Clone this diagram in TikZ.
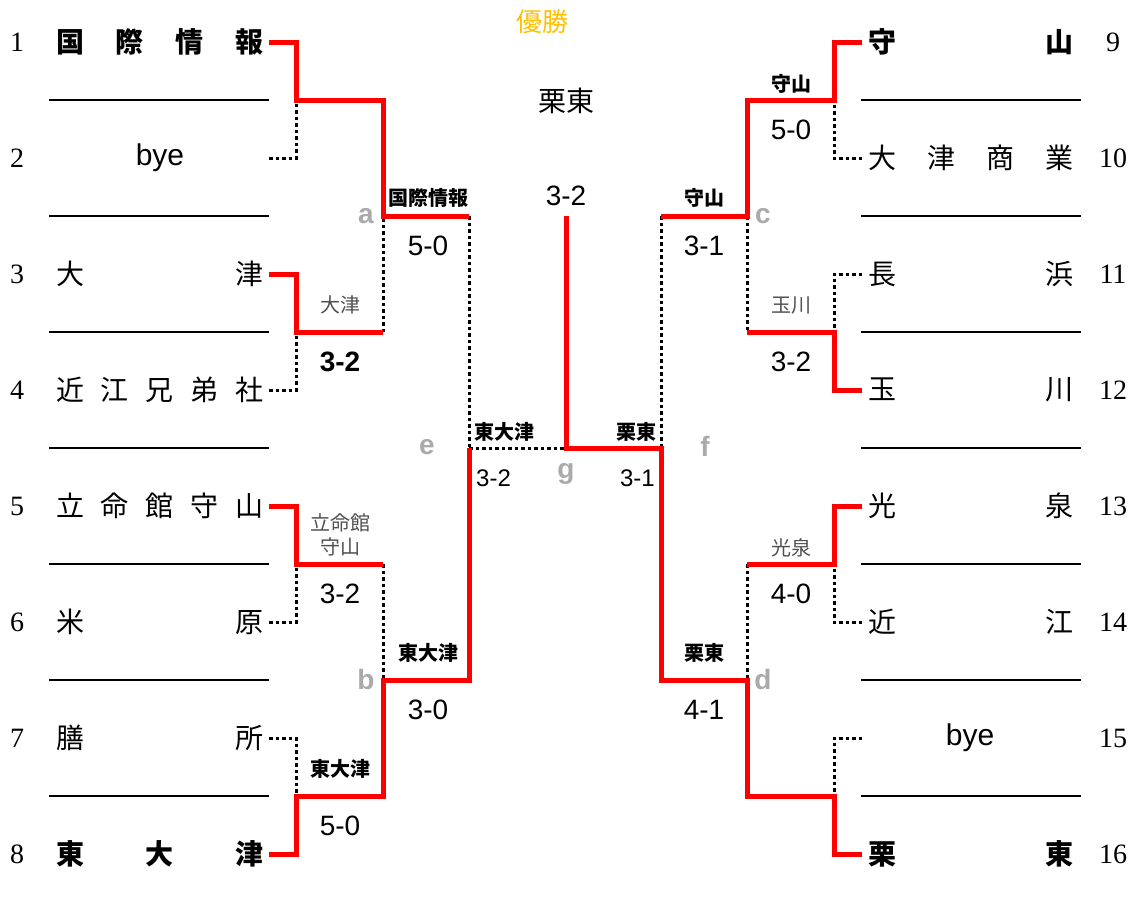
\documentclass[tikz,border=0pt]{standalone}
\usepackage{fontspec}
\setmainfont{Liberation Sans}
\newfontfamily\cjk{Noto Sans CJK JP}
\newfontfamily\numf{Liberation Serif}
\definecolor{winred}{RGB}{255,0,0}
\definecolor{gold}{RGB}{255,192,0}
\definecolor{lettergray}{RGB}{170,170,170}
\definecolor{labgray}{RGB}{80,80,80}
\newcommand{\lname}[1]{\makebox[207pt][s]{#1}}
\newcommand{\rname}[1]{\makebox[205pt][s]{#1}}
\begin{document}
\begin{tikzpicture}[x=1pt,y=-1pt,
  win/.style={draw=winred,line width=5pt,line join=miter},
  lose/.style={draw=black,line width=3pt,dash pattern=on 3.5pt off 3pt},
  sepline/.style={draw=black,line width=1.6pt},
  team/.style={inner sep=0pt,anchor=west,font=\cjk\fontsize{28}{28}\selectfont},
  teamb/.style={team,font=\cjk\bfseries\fontsize{28}{28}\selectfont},
  byet/.style={inner sep=0pt,font=\fontsize{30}{30}\selectfont},
  seed/.style={inner sep=0pt,font=\numf\fontsize{28}{28}\selectfont},
  score/.style={inner sep=0pt,font=\fontsize{28}{28}\selectfont},
  scoresm/.style={inner sep=0pt,font=\fontsize{24}{24}\selectfont},
  blab/.style={inner sep=0pt,font=\cjk\bfseries\fontsize{20}{20}\selectfont},
  glab/.style={inner sep=0pt,text=labgray,font=\cjk\fontsize{20}{20}\selectfont},
  letter/.style={inner sep=0pt,text=lettergray,font=\bfseries\fontsize{28}{28}\selectfont}]
\useasboundingbox (0,0) rectangle (1138,911);
\fill[white] (0,0) rectangle (1138,911);

% separators
\foreach \y in {100,216,332,448,564,680,796} {
  \draw[sepline] (49,\y) -- (269,\y);
  \draw[sepline] (861,\y) -- (1081,\y);
}

% seed numbers
\foreach \i/\y in {1/42,2/158,3/274,4/390,5/506,6/622,7/738,8/854}
  \node[seed] (n\i) at (17,\y) {\i};
\foreach \i/\y in {9/42,10/158,11/274,12/390,13/506,14/622,15/738,16/854}
  \node[seed] (n\i) at (1113,\y) {\i};

% team names left
\node[teamb] (t1) at (56,42) {\lname{国\hfill 際\hfill 情\hfill 報}};
\node[byet] (t2) at (160,158) {bye};
\node[team] (t3) at (56,274) {\lname{大\hfill 津}};
\node[team] (t4) at (56,390) {\lname{近\hfill 江\hfill 兄\hfill 弟\hfill 社}};
\node[team] (t5) at (56,506) {\lname{立\hfill 命\hfill 館\hfill 守\hfill 山}};
\node[team] (t6) at (56,622) {\lname{米\hfill 原}};
\node[team] (t7) at (56,738) {\lname{膳\hfill 所}};
\node[teamb] (t8) at (56,854) {\lname{東\hfill 大\hfill 津}};
% team names right
\node[teamb] (t9) at (868,42) {\rname{守\hfill 山}};
\node[team] (t10) at (868,158) {\rname{大\hfill 津\hfill 商\hfill 業}};
\node[team] (t11) at (868,274) {\rname{長\hfill 浜}};
\node[team] (t12) at (868,390) {\rname{玉\hfill 川}};
\node[team] (t13) at (868,506) {\rname{光\hfill 泉}};
\node[team] (t14) at (868,622) {\rname{近\hfill 江}};
\node[byet] (t15) at (970,738) {bye};
\node[teamb] (t16) at (868,854) {\rname{栗\hfill 東}};

% bracket coordinates
\foreach \i/\y in {1/42,2/158,3/274,4/390,5/506,6/622,7/738,8/854}
  \coordinate (e\i) at (269,\y);
\foreach \i/\y in {9/42,10/158,11/274,12/390,13/506,14/622,15/738,16/854}
  \coordinate (e\i) at (862,\y);
\coordinate (j12) at (296,100);
\coordinate (j34) at (296,332);
\coordinate (j56) at (296,564);
\coordinate (j78) at (296,796);
\coordinate (a34) at (383,332);
\coordinate (b56) at (383,564);
\coordinate (a) at (383,216);
\coordinate (b) at (383,680);
\coordinate (ea) at (469,216);
\coordinate (eb) at (469,680);
\coordinate (e) at (469,448);
\coordinate (g) at (566,448);
\coordinate (gtop) at (566,216);
\coordinate (f) at (661,448);
\coordinate (fc) at (661,216);
\coordinate (fd) at (661,680);
\coordinate (c) at (747,216);
\coordinate (d) at (747,680);
\coordinate (c1112) at (747,332);
\coordinate (d1314) at (747,564);
\coordinate (j910) at (834,100);
\coordinate (j1112) at (834,332);
\coordinate (j1314) at (834,564);
\coordinate (j1516) at (834,796);

% losers (dotted)
\draw[lose] (e2) -| (j12);
\draw[lose] (e4) -| (j34);
\draw[lose] (a34) -- (a);
\draw[lose] (ea) -- (e);
\draw[lose] (e6) -| (j56);
\draw[lose] (e7) -| (j78);
\draw[lose] (b56) -- (b);
\draw[lose] (e) -- (g);
\draw[lose] (fc) -- (f);
\draw[lose] (e10) -| (j910);
\draw[lose] (c) -- (c1112);
\draw[lose] (e11) -| (j1112);
\draw[lose] (e14) -| (j1314);
\draw[lose] (d1314) -- (d);
\draw[lose] (e15) -| (j1516);

% winners (red)
\draw[win] (e1) -| (j12) -| (a) -- (ea);
\draw[win] (e3) -| (j34) -- (a34);
\draw[win] (e5) -| (j56) -- (b56);
\draw[win] (e8) -| (j78) -| (b) -- (eb) -- (e);
\draw[win] (gtop) -- (g) -- (f) -- (fd) -- (d) |- (j1516) |- (e16);
\draw[win] (fc) -- (c) |- (j910) |- (e9);
\draw[win] (c1112) -- (j1112) |- (e12);
\draw[win] (d1314) -- (j1314) |- (e13);

% top
\node[inner sep=0pt,text=gold,font=\cjk\fontsize{26}{26}\selectfont] (champ) at (542,22) {優勝};
\node[inner sep=0pt,font=\cjk\fontsize{28}{28}\selectfont] (champname) at (566,101) {栗東};
\node[score] (sfinal) at (566,196) {3-2};

% left round 1 labels
\node[glab] (w34) at (340,305) {大津};
\node[score,font=\bfseries\fontsize{28}{28}\selectfont] (s34) at (340,362) {3-2};
\node[glab,align=center] (w56) at (340,535) {立命館\\[4pt]守山};
\node[score] (s56) at (340,594) {3-2};
\node[blab] (w78) at (340,769) {東大津};
\node[score] (s78) at (340,826) {5-0};
% left round 2
\node[blab] (wa) at (428,198) {国際情報};
\node[score] (sa) at (428,246) {5-0};
\node[blab] (wb) at (428,653) {東大津};
\node[score] (sb) at (428,710) {3-0};
% semifinal labels
\node[blab,anchor=west] (we) at (474,432) {東大津};
\node[scoresm,anchor=west] (se) at (476,478) {3-2};
\node[blab,anchor=east] (wf) at (657,432) {栗東};
\node[scoresm,anchor=east] (sf) at (655,478) {3-1};
% right round 2
\node[blab] (wc) at (704,198) {守山};
\node[score] (sc) at (704,246) {3-1};
\node[blab] (wd) at (704,653) {栗東};
\node[score] (sd) at (704,710) {4-1};
% right round 1
\node[blab] (w910) at (791,84) {守山};
\node[score] (s910) at (791,130) {5-0};
\node[glab] (w1112) at (791,305) {玉川};
\node[score] (s1112) at (791,362) {3-2};
\node[glab] (w1314) at (791,548) {光泉};
\node[score] (s1314) at (791,594) {4-0};

% match letters
\node[letter] (la) at (366,216) {a};
\node[letter] (lb) at (366,679) {b};
\node[letter] (lc) at (763,216) {c};
\node[letter] (ld) at (763,679) {d};
\node[letter] (le) at (427,447) {e};
\node[letter] (lf) at (705,446) {f};
\node[letter] (lg) at (566,474) {g};
\end{tikzpicture}
\end{document}
